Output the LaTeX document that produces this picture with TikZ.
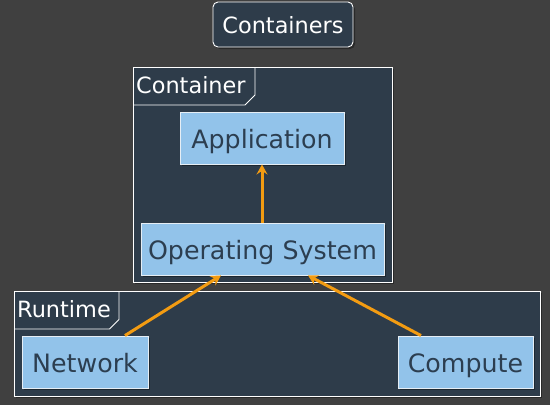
\documentclass[tikz,border=0pt]{standalone}
\usepackage{fontspec}
\setmainfont{DejaVu Sans}
\usetikzlibrary{shadows,arrows.meta,calc}
\definecolor{bgc}{HTML}{404040}
\definecolor{framefill}{HTML}{2E3C4A}
\definecolor{boxfill}{HTML}{92C3EA}
\definecolor{boxtext}{HTML}{2C3E50}
\definecolor{boxline}{HTML}{E6EEF5}
\definecolor{arrowc}{HTML}{F39C12}
\tikzset{
  shd/.style={drop shadow={shadow xshift=2pt,shadow yshift=-2pt,opacity=0.35,fill=black}},
  framebox/.style={draw=white,fill=framefill,line width=0.9pt,shd},
  tabline/.style={draw=white,line width=0.9pt},
  tablabel/.style={text=white,font=\fontsize{22.4}{26}\selectfont,anchor=base west,inner sep=0pt},
  comp/.style={draw=boxline,fill=boxfill,line width=0.9pt,shd,text=boxtext,
    font=\fontsize{25.3}{29}\selectfont,inner sep=0pt,text height=22pt,text depth=2pt},
  arr/.style={draw=arrowc,line width=3pt,-{Stealth[length=10pt,width=11pt,inset=3.5pt]}}
}
\begin{document}
\begin{tikzpicture}[x=1pt,y=-1pt]
\fill[bgc] (0,0) rectangle (550,405);
\useasboundingbox (0,0) rectangle (550,405);
% title
\node[draw=white,fill=framefill,line width=0.9pt,rounded corners=5pt,shd,
  minimum width=140pt,minimum height=45pt,inner sep=0pt,text=white,
  text height=18pt,text depth=1pt,
  font=\fontsize{22.4}{26}\selectfont] (title) at (283,24.5) {Containers};
% container frame
\path[framebox] (133,67) rectangle (392,282);
\draw[tabline] (133,105) -- (245,105) -- (255,95) -- (255,67);
\node[tablabel] (lcont) at (136,93) {Container};
% runtime frame
\path[framebox] (14,291) rectangle (540,396);
\draw[tabline] (14,329) -- (109.5,329) -- (119,319.5) -- (119,291);
\node[tablabel] (lrun) at (17,317) {Runtime};
% components
\node[comp,minimum width=164pt,minimum height=52pt] (app) at (262,138) {Application};
\node[comp,minimum width=243pt,minimum height=52pt] (os) at (262.5,249) {Operating System};
\node[comp,minimum width=126pt,minimum height=52pt] (net) at (85,362) {Network};
\node[comp,minimum width=135pt,minimum height=52pt] (cmp) at (465.5,362) {Compute};
% connectors
\draw[arr] (os.north -| app.south) -- (app.south);
\draw[arr] ([xshift=40pt]net.north) -- ([xshift=-41.5pt]os.south);
\draw[arr] ([xshift=-44.5pt]cmp.north) -- ([xshift=45.5pt]os.south);
\end{tikzpicture}
\end{document}
